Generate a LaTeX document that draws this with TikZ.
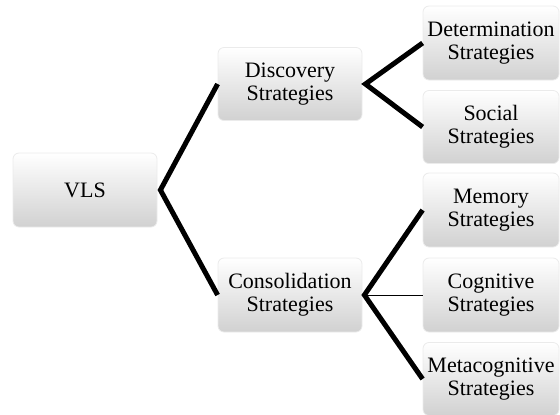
\documentclass[tikz,border=0pt]{standalone}
\usepackage{fontspec}
\setmainfont{Liberation Serif}
\usepackage{xcolor}
\usepackage{tikz}

\begin{document}
\begin{tikzpicture}[x=0.5pt,y=-0.5pt,
  stratbox/.style={rounded corners=3pt,top color=white,bottom color=black!18,
        draw=black!8,line width=0.4pt,inner sep=1pt,align=center,
        minimum height=37pt,font=\fontsize{11}{11.3}\selectfont},
  branch/.style={line width=2.5pt}]
  \useasboundingbox (0,0) rectangle (560,414);
  % levels of the tree
  \node[stratbox,minimum width=72pt] (vls) at (85,190) {VLS};
  \node[stratbox,minimum width=72pt,minimum height=36.5pt] (disc) at (290,84) {Discovery\\Strategies};
  \node[stratbox,minimum width=72pt] (cons) at (290,295) {Consolidation\\Strategies};
  \node[stratbox,minimum width=68pt] (det) at (491,43) {Determination\\Strategies};
  \node[stratbox,minimum width=68pt,minimum height=36.5pt] (soc) at (491,127) {Social\\Strategies};
  \node[stratbox,minimum width=68pt] (mem) at (491,210) {Memory\\Strategies};
  \node[stratbox,minimum width=68pt] (cog) at (491,295) {Cognitive\\Strategies};
  \node[stratbox,minimum width=68pt,minimum height=36.5pt] (meta) at (491,379) {Metacognitive\\Strategies};
  % connectors
  \draw[branch] (disc.west) -- ([xshift=1.5pt]vls.east) -- (cons.west);
  \draw[branch] (det.west) -- ([xshift=1.5pt]disc.east) -- (soc.west);
  \draw[branch] (mem.west) -- ([xshift=1pt]cons.east) -- (meta.west);
  \draw[line width=0.5pt] ([xshift=1pt]cons.east) -- (cog.west);
\end{tikzpicture}
\end{document}
